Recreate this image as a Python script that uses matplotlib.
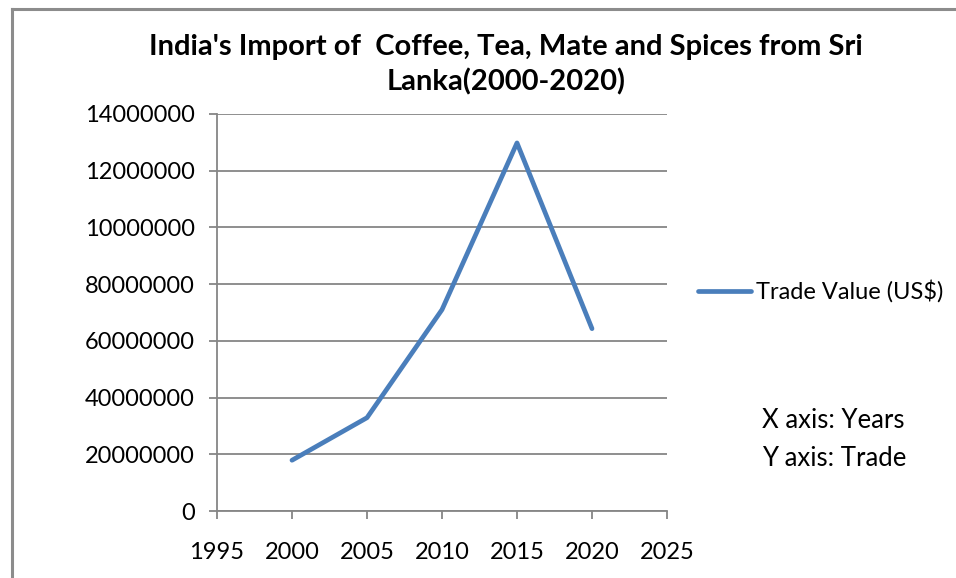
import matplotlib
matplotlib.use("Agg")
import matplotlib.pyplot as plt
from matplotlib.lines import Line2D

years = [2000, 2005, 2010, 2015, 2020]
trade_values = [17900000, 32900000, 71000000, 129800000, 64300000]
series_name = "Trade Value (US$)"
title = "India's Import of  Coffee, Tea, Mate and Spices from Sri\nLanka(2000-2020)"
x_ticks = [1995, 2000, 2005, 2010, 2015, 2020, 2025]
y_ticks = [0, 20000000, 40000000, 60000000, 80000000, 100000000, 120000000, 140000000]
y_tick_labels = ["0", "20000000", "40000000", "60000000", "80000000",
                 "10000000", "12000000", "14000000"]

W, H = 956, 578
fig = plt.figure(figsize=(W / 100, H / 100), dpi=100)
plt.rcParams['font.family'] = ['Lato', 'DejaVu Sans']

# outer border (chart area frame)
fig.add_artist(Line2D([11.5 / W, 11.5 / W], [0, 1 - 9 / H], transform=fig.transFigure,
                      color="#8c8c8c", lw=2.2))
fig.add_artist(Line2D([11.5 / W, 1], [1 - 9 / H, 1 - 9 / H], transform=fig.transFigure,
                      color="#8c8c8c", lw=2.2))

left, right, top, bottom = 217, 667, 114, 511
ax = fig.add_axes([left / W, 1 - bottom / H, (right - left) / W, (bottom - top) / H])

grid_c = "#868686"
ax.plot(years, trade_values, color="#4A7EBB", lw=3.4, solid_capstyle="round",
        label=series_name, zorder=3)
ax.set_xlim(1995, 2025)
ax.set_ylim(0, 140000000)
ax.set_xticks(x_ticks)
ax.set_xticklabels([str(x) for x in x_ticks])
ax.set_yticks(y_ticks)
ax.set_yticklabels(y_tick_labels)
ax.yaxis.grid(True, color=grid_c, lw=1.3)
ax.set_axisbelow(True)
for s in ["top", "right"]:
    ax.spines[s].set_visible(False)
for s in ["left", "bottom"]:
    ax.spines[s].set_color(grid_c)
    ax.spines[s].set_linewidth(1.3)
ax.tick_params(axis="both", colors=grid_c, width=1.3, length=5.5, labelcolor="black",
               labelsize=17)
ax.tick_params(axis="x", pad=17)
ax.tick_params(axis="y", pad=10.5)

fig.text(506 / W, 1 - 64.5 / H, title, ha="center", va="center", fontsize=21,
         fontweight="bold", linespacing=1.38)

# legend
fig.add_artist(Line2D([698 / W, 751 / W], [1 - 291 / H, 1 - 291 / H],
                      transform=fig.transFigure, color="#4A7EBB", lw=3.4,
                      solid_capstyle="round"))
fig.text(756 / W, 1 - 291 / H, series_name, ha="left", va="center", fontsize=17)

fig.text(762 / W, 1 - 421 / H, "X axis: Years", ha="left", va="center", fontsize=18.5)
fig.text(762 / W, 1 - 458 / H, "Y axis: Trade", ha="left", va="center", fontsize=18.5)

fig.savefig("out.png", dpi=100)
